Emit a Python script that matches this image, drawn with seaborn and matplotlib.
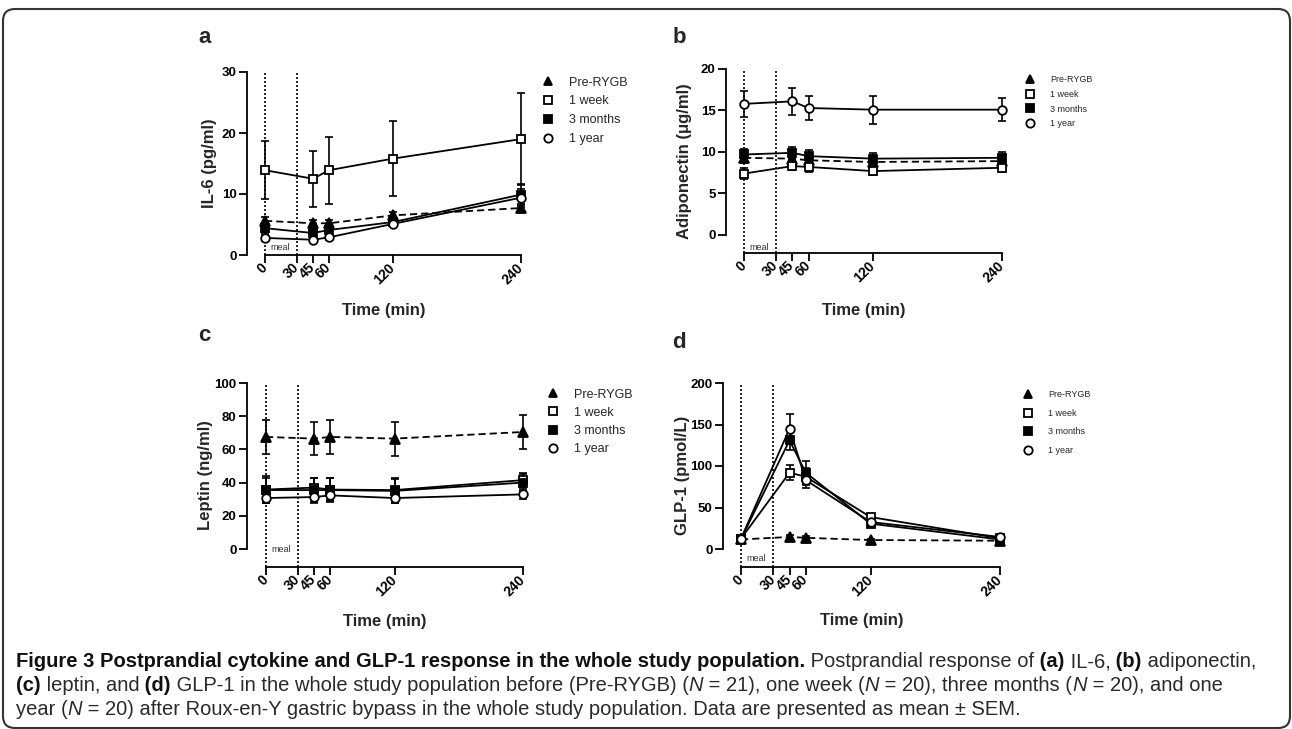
import numpy as np
import pandas as pd
import matplotlib
matplotlib.use('Agg')
import matplotlib.pyplot as plt
import seaborn as sns
from matplotlib.lines import Line2D
from matplotlib.patches import FancyBboxPatch

# sampling times and groups
times = [0, 45, 60, 120, 240]
groups = ['Pre-RYGB', '1 week', '3 months', '1 year']
xtick_vals = [0, 30, 45, 60, 120, 240]

# values (order follows groups)
il6_means = [[5.6, 5.2, 5.2, 6.5, 7.7],
             [13.9, 12.5, 13.9, 15.8, 19.0],
             [4.4, 3.6, 4.1, 5.4, 9.9],
             [2.8, 2.5, 2.9, 5.1, 9.4]]
il6_sems = [[0.7, 0.6, 0.6, 0.6, 0.6],
            [4.8, 4.6, 5.5, 6.1, 7.5],
            [0.8, 0.6, 0.7, 0.5, 1.7],
            [0.5, 0.4, 0.4, 0.4, 1.5]]

adipo_means = [[9.3, 9.2, 9.0, 8.8, 8.9],
               [7.4, 8.3, 8.2, 7.7, 8.1],
               [9.7, 9.9, 9.5, 9.2, 9.3],
               [15.8, 16.1, 15.3, 15.1, 15.1]]
adipo_sems = [[0.6, 0.5, 0.5, 0.5, 0.5],
              [0.7, 0.5, 0.6, 0.5, 0.5],
              [0.7, 0.7, 0.7, 0.7, 0.7],
              [1.6, 1.6, 1.4, 1.7, 1.4]]

leptin_means = [[67.5, 66.5, 67.5, 66.5, 70.5],
                [35.8, 37.0, 35.8, 35.5, 41.5],
                [35.5, 35.5, 35.5, 35.0, 40.0],
                [30.7, 31.3, 32.3, 30.7, 32.9]]
leptin_sems = [[10.0, 9.8, 10.5, 10.3, 10.0],
               [8.0, 6.0, 7.0, 7.0, 4.5],
               [7.0, 7.0, 7.0, 7.0, 5.0],
               [3.0, 3.5, 3.0, 3.0, 2.5]]

glp1_means = [[11.5, 14.5, 13.5, 10.8, 10.0],
              [12.5, 92.0, 87.0, 38.5, 13.0],
              [12.0, 131.0, 92.0, 30.5, 11.5],
              [12.5, 145.0, 83.0, 32.5, 14.5]]
glp1_sems = [[1.5, 2.0, 2.0, 1.5, 1.5],
             [2.0, 9.0, 10.0, 4.0, 2.0],
             [2.0, 12.0, 14.0, 4.0, 2.0],
             [2.0, 18.0, 10.0, 4.0, 2.0]]

# marker, face colour, line style per group
group_style = {'Pre-RYGB': ('^', 'black', (0, (4, 2.2))),
               '1 week': ('s', 'white', '-'),
               '3 months': ('s', 'black', '-'),
               '1 year': ('o', 'white', '-')}

sns.set_style('ticks')
plt.rcParams['font.family'] = ['Liberation Sans', 'DejaVu Sans']
plt.rcParams['axes.edgecolor'] = 'black'

W, H = 1292, 729
fig = plt.figure(figsize=(W / 100, H / 100), dpi=100)


def add_ax(box, x0px, y0px, ytop):
    l, t, r, b = box
    ax = fig.add_axes([l / W, 1 - b / H, (r - l) / W, (b - t) / H])
    xpx = (r - x0px) / 240
    ax.set_xlim(-(x0px - l) / xpx, 240)
    ypx = (y0px - t) / ytop
    ax.set_ylim(-(b - y0px) / ypx, ytop)
    return ax


def draw_panel(ax, means, sems, ytop, yticks, ylabel, letter, letter_pos,
               leg_fs, leg_anchor, leg_space, ylab_x, xlab_y, meal_y):
    ax.axvline(0, color='black', lw=1.2, ls=(0, (1.2, 1.2)), zorder=1)
    ax.axvline(30, color='black', lw=1.2, ls=(0, (1.2, 1.2)), zorder=1)
    for g, m, s in zip(groups, means, sems):
        mk, fc, ls = group_style[g]
        ax.errorbar(times, m, yerr=s, fmt='none', ecolor='black', elinewidth=1.2,
                    capsize=2.6, capthick=1.2, zorder=2, clip_on=False)
        df = pd.DataFrame({'time': times, 'value': m})
        sns.lineplot(data=df, x='time', y='value', ax=ax, color='black', marker=mk,
                     mfc=fc, mec='black', mew=1.3, ms=6.2 if mk != '^' else 6.8,
                     lw=1.3, ls=ls, errorbar=None, zorder=3, clip_on=False)

    sns.despine(ax=ax)
    ax.spines['left'].set_bounds(0, ytop)
    ax.spines['bottom'].set_bounds(0, 240)
    for sp in ['left', 'bottom']:
        ax.spines[sp].set_linewidth(1.3)
    ax.set_xticks(xtick_vals)
    ax.set_xticklabels([str(v) for v in xtick_vals], rotation=45, ha='right',
                       va='center', rotation_mode='anchor', fontweight='bold',
                       fontsize=10)
    ax.set_yticks(yticks)
    ax.set_yticklabels([str(v) for v in yticks], fontweight='bold', fontsize=9.5)
    ax.tick_params(direction='out', length=5.5, width=1.3, pad=2, colors='black')

    ax.set_ylabel(ylabel, fontweight='bold', fontsize=12)
    ax.yaxis.set_label_coords(ylab_x, 0.5)
    ax.set_xlabel('Time (min)', fontweight='bold', fontsize=12, va='top')
    ax.xaxis.set_label_coords(0.5, xlab_y)

    ax.text(5, meal_y, 'meal', fontsize=6.5, color='#333333', va='center', ha='left')

    handles = []
    for g in groups:
        mk, fc, _ = group_style[g]
        handles.append(Line2D([], [], ls='none', marker=mk, mfc=fc, mec='black',
                              mew=1.3, ms=6))
    ax.legend(handles, groups, loc='upper left', bbox_to_anchor=leg_anchor,
              frameon=False, fontsize=leg_fs, handlelength=1.0,
              handletextpad=1.2 if leg_fs > 8 else 1.7, labelspacing=leg_space,
              borderpad=0, borderaxespad=0)

    fig.text(letter_pos[0] / W, 1 - letter_pos[1] / H, letter, fontsize=16,
             fontweight='bold', ha='left', va='baseline')


ax_a = add_ax((247, 72, 521, 255), 265, 255, 30)
draw_panel(ax_a, il6_means, il6_sems, 30, [0, 10, 20, 30], 'IL-6 (pg/ml)', 'a',
           (198, 43), 9, (1.076, 0.975), 0.55, -0.11, -0.265, 1.3)

ax_b = add_ax((726, 69, 1002, 253), 744, 235, 20)
draw_panel(ax_b, adipo_means, adipo_sems, 20, [0, 5, 10, 15, 20],
           'Adiponectin (\u03bcg/ml)', 'b', (673, 43), 6.5, (1.085, 0.965), 0.62,
           -0.123, -0.27, -1.5)

ax_c = add_ax((247, 383, 523, 567), 266, 549, 100)
draw_panel(ax_c, leptin_means, leptin_sems, 100, [0, 20, 40, 60, 80, 100],
           'Leptin (ng/ml)', 'c', (198, 341), 9, (1.086, 0.97), 0.5,
           -0.123, -0.255, 0)

ax_d = add_ax((723, 383, 1000, 567), 741, 549, 200)
draw_panel(ax_d, glp1_means, glp1_sems, 200, [0, 50, 100, 150, 200],
           'GLP-1 (pmol/L)', 'd', (672, 348), 6.5, (1.085, 0.96), 1.05,
           -0.119, -0.25, -12)

# caption
cap_ax = fig.add_axes([0, 0, 1, 1])
cap_ax.axis('off')
cap_family = ['Liberation Sans', 'DejaVu Sans']
cap_fs = 14.5

caption_lines = [
    [('Figure 3 Postprandial cytokine and GLP-1 response in the whole study population.', 'bold', 'normal'),
     (' Postprandial response of', 'normal', 'normal'),
     (' (a)', 'bold', 'normal'), (' IL-6,', 'normal', 'normal'),
     (' (b)', 'bold', 'normal'), (' adiponectin,', 'normal', 'normal')],
    [('(c)', 'bold', 'normal'), (' leptin, and', 'normal', 'normal'),
     (' (d)', 'bold', 'normal'),
     (' GLP-1 in the whole study population before (Pre-RYGB) (', 'normal', 'normal'),
     ('N', 'normal', 'italic'), (' = 21), one week (', 'normal', 'normal'),
     ('N', 'normal', 'italic'), (' = 20), three months (', 'normal', 'normal'),
     ('N', 'normal', 'italic'), (' = 20), and one', 'normal', 'normal')],
    [('year (', 'normal', 'normal'), ('N', 'normal', 'italic'),
     (' = 20) after Roux-en-Y gastric bypass in the whole study population. '
      'Data are presented as mean \u00b1 SEM.', 'normal', 'normal')],
]
baselines = [667, 691, 715]

for pieces, yb in zip(caption_lines, baselines):
    prev = None
    for text, weight, style in pieces:
        kw = dict(fontsize=cap_fs, fontweight=weight, fontstyle=style,
                  family=cap_family, color='#111111' if weight == 'bold' else '#2a2a2a')
        if prev is None:
            prev = cap_ax.text(16 / W, 1 - yb / H, text, transform=fig.transFigure,
                               ha='left', va='baseline', **kw)
        else:
            prev = cap_ax.annotate(text, xy=(1, 0), xycoords=prev, ha='left',
                                   va='bottom', **kw)

# rounded frame around the figure
frame = FancyBboxPatch((0.03, 0.01), 12.87, 7.19,
                       boxstyle='round,pad=0,rounding_size=0.12',
                       transform=fig.dpi_scale_trans, fill=False,
                       edgecolor='#333333', lw=1.5)
fig.patches.append(frame)

fig.savefig('out.png', dpi=100)
